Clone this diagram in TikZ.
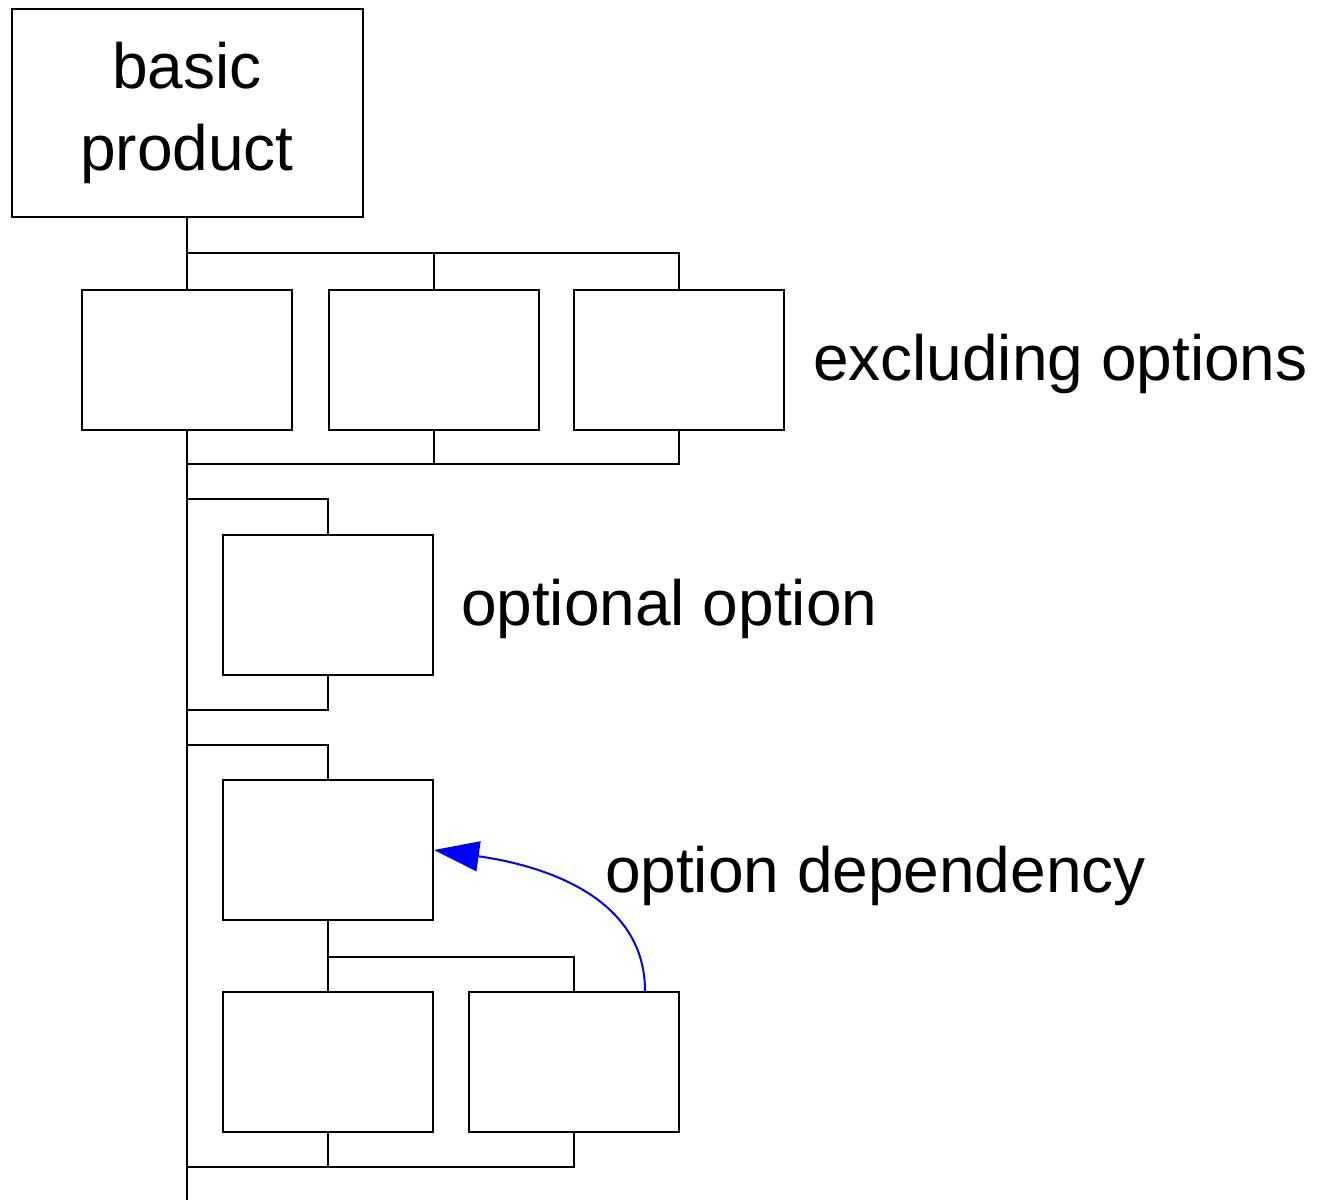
\documentclass[tikz,border=0pt]{standalone}
\usepackage{fontspec}
\setmainfont{Liberation Sans}
\usetikzlibrary{positioning,arrows.meta}
\tikzset{
optbox/.style={draw, rectangle, minimum width=210pt, minimum height=140pt, inner sep=0pt},
basebox/.style={draw, rectangle, align=center, minimum width=351pt, minimum height=208pt,
  font=\fontsize{64}{82}\selectfont},
lbl/.style={inner sep=0pt, font=\fontsize{64}{82}\selectfont},
depend/.style={blue, -{Triangle[length=45pt,width=30pt]}},
}
\begin{document}
\begin{tikzpicture}[x=1pt, y=-1pt, line width=2pt]
    \useasboundingbox (0,0) rectangle (1317,1200);
    % basic product
    \node[basebox] (base) at (187,112.5) {basic\\product};
    % excluding options
    \node[optbox] (ex1) at (187,359.5) {};
    \node[optbox] (ex2) at (433.5,359.5) {};
    \node[optbox] (ex3) at (679,359.5) {};
    \node[lbl, right=27pt of ex3, yshift=-4pt] (exlbl) {excluding options};
    % optional option
    \node[optbox] (opt) at (328,605) {};
    \node[lbl, right=26pt of opt, yshift=-4pt] (optlbl) {optional option};
    % option dependency
    \node[optbox] (dep) at (328,850) {};
    \node[optbox] (sub1) at (328,1062) {};
    \node[optbox] (sub2) at (574,1062) {};
    \node[lbl, anchor=west] (deplbl) at (604,876) {option dependency};

    \coordinate (j1) at (187,253);
    \coordinate (j2) at (187,464);
    \coordinate (j3) at (187,499);
    \coordinate (j4) at (187,710);
    \coordinate (j5) at (187,745);
    \coordinate (j6) at (328,957);
    \coordinate (j7) at (187,1167);
    \coordinate (bottom) at (187,1200);

    \draw (base.south) -- (ex1.north);
    \draw (j1) -| (ex2.north);
    \draw (j1) -| (ex3.north);
    \draw (ex1.south) -- (bottom);
    \draw (ex2.south) |- (j2);
    \draw (ex3.south) |- (j2);
    \draw (j3) -| (opt.north);
    \draw (opt.south) |- (j4);
    \draw (j5) -| (dep.north);
    \draw (dep.south) -- (sub1.north);
    \draw (j6) -| (sub2.north);
    \draw (sub1.south) |- (j7);
    \draw (sub2.south) |- (j7);

    \draw[depend] ([xshift=71pt]sub2.north) to[out=90, in=-8] (dep.east);
\end{tikzpicture}
\end{document}
